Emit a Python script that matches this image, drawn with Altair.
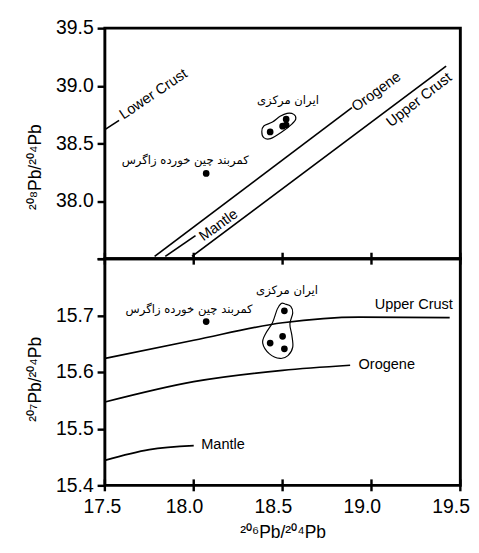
import altair as alt
import pandas as pd

# ---------------- data ----------------
x_ticks = [17.5, 18.0, 18.5, 19.0, 19.5]
top_y_ticks = [37.5, 38.0, 38.5, 39.0, 39.5]
bot_y_ticks = [15.4, 15.5, 15.6, 15.7, 15.8]

# top panel: 208Pb/204Pb vs 206Pb/204Pb reference lines
top_lower_crust_x = [17.5, 17.58]
top_lower_crust_y = [38.62, 38.70]
top_orogene_x = [17.78, 18.89]
top_orogene_y = [37.52, 38.81]
top_mantle_x = [17.84, 18.01]
top_mantle_y = [37.52, 37.70]
top_upper_crust_x = [17.99, 19.42]
top_upper_crust_y = [37.52, 39.17]

# bottom panel: 207Pb/204Pb vs 206Pb/204Pb reference curves
bot_upper_crust_x = [17.5, 18.0, 18.5, 18.93, 19.44]
bot_upper_crust_y = [15.624, 15.656, 15.687, 15.697, 15.696]
bot_orogene_x = [17.5, 18.0, 18.5, 18.88]
bot_orogene_y = [15.547, 15.583, 15.603, 15.612]
bot_mantle_x = [17.5, 17.75, 18.0]
bot_mantle_y = [15.444, 15.463, 15.470]

# samples
zagros_x = [18.07]
zagros_top_y = [38.24]
zagros_bot_y = [15.689]
central_top_x = [18.43, 18.50, 18.52, 18.52]
central_top_y = [38.60, 38.65, 38.66, 38.71]
central_bot_x = [18.51, 18.43, 18.50, 18.51]
central_bot_y = [15.708, 15.651, 15.663, 15.641]

# enclosing loops around the Central Iran samples
top_loop_x = [18.383, 18.394, 18.432, 18.497, 18.552, 18.574, 18.563, 18.525, 18.486, 18.443, 18.394]
top_loop_y = [38.601, 38.550, 38.542, 38.601, 38.668, 38.710, 38.752, 38.761, 38.735, 38.685, 38.651]
bot_loop_x = [18.514, 18.546, 18.557, 18.541, 18.552, 18.557, 18.530, 18.486, 18.426, 18.388, 18.405, 18.443, 18.470, 18.492]
bot_loop_y = [15.720, 15.716, 15.704, 15.685, 15.665, 15.644, 15.629, 15.624, 15.632, 15.651, 15.668, 15.687, 15.711, 15.721]

# annotation texts
central_label = "ایران مرکزی"
zagros_label = "کمربند چین خورده زاگرس"
top_en_text = ["Lower Crust", "Orogene", "Upper Crust", "Mantle"]
top_en_x = [17.772, 19.026, 19.266, 18.138]
top_en_y = [38.93, 38.95, 38.88, 37.794]
top_en_angle = [326, 324, 322, 324]
bot_en_text = ["Upper Crust", "Orogene", "Mantle"]
bot_en_x = [19.238, 19.086, 18.165]
bot_en_y = [15.720, 15.614, 15.473]
top_fa_x = [18.53, 17.952]
top_fa_y = [38.878, 38.357]
bot_fa_x = [18.525, 17.974]
bot_fa_y = [15.744, 15.711]

# x tick marks crossing the two horizontal frame lines (207 scale values)
tick_half = 0.0105
frame_levels = [bot_y_ticks[-1], bot_y_ticks[0]]

# ---------------- tables ----------------
def lines_df(items):
    rows = []
    for name, xs, ys in items:
        for i, (a, b) in enumerate(zip(xs, ys)):
            rows.append({"series": name, "x": a, "y": b, "order": i})
    return pd.DataFrame(rows)

top_lines = lines_df([
    ("Lower Crust", top_lower_crust_x, top_lower_crust_y),
    ("Orogene", top_orogene_x, top_orogene_y),
    ("Mantle", top_mantle_x, top_mantle_y),
    ("Upper Crust", top_upper_crust_x, top_upper_crust_y),
])
bot_lines = lines_df([
    ("Upper Crust", bot_upper_crust_x, bot_upper_crust_y),
    ("Orogene", bot_orogene_x, bot_orogene_y),
    ("Mantle", bot_mantle_x, bot_mantle_y),
])
top_pts = pd.DataFrame({"x": zagros_x + central_top_x, "y": zagros_top_y + central_top_y})
bot_pts = pd.DataFrame({"x": zagros_x + central_bot_x, "y": zagros_bot_y + central_bot_y})
top_loop = pd.DataFrame({"x": top_loop_x, "y": top_loop_y, "order": list(range(len(top_loop_x)))})
bot_loop = pd.DataFrame({"x": bot_loop_x, "y": bot_loop_y, "order": list(range(len(bot_loop_x)))})
top_en = pd.DataFrame({"text": top_en_text, "x": top_en_x, "y": top_en_y, "angle": top_en_angle})
bot_en = pd.DataFrame({"text": bot_en_text, "x": bot_en_x, "y": bot_en_y})
top_fa = pd.DataFrame({"text": [central_label, zagros_label], "x": top_fa_x, "y": top_fa_y})
bot_fa = pd.DataFrame({"text": [central_label, zagros_label], "x": bot_fa_x, "y": bot_fa_y})
frame_ticks = pd.DataFrame([
    {"x": xv, "y": lv - tick_half, "y2": lv + tick_half}
    for lv in frame_levels for xv in x_ticks
])

# ---------------- chart ----------------
W = 367
LABEL_FONT = "Liberation Sans"
FA_FONT = "DejaVu Sans"
X_SCALE = alt.Scale(domain=[17.5, 19.5], nice=False, zero=False)


def y_axis(yticks, blank, title, title_y):
    return alt.Axis(values=yticks,
                    labelExpr=f"datum.value == {blank} ? '' : format(datum.value, '.1f')",
                    tickSize=8, tickWidth=2.5, tickColor="black", domain=False, grid=False,
                    labelFont=LABEL_FONT, labelFontSize=20, labelColor="black", labelPadding=4,
                    labelFlush=False,
                    title=title, titleFont=LABEL_FONT, titleFontSize=18, titleY=title_y,
                    titleFontWeight="normal", titleColor="black", titlePadding=12)


def panel(lines, pts, loop, en, fa, ydom, yax, xax, interp, height, extra=None):
    xs = alt.X("x:Q", scale=X_SCALE, axis=xax)
    ys = alt.Y("y:Q", scale=alt.Scale(domain=ydom, nice=False, zero=False), axis=yax)
    line_kw = dict(color="black", strokeWidth=1.7, clip=True)
    if interp:
        line_kw["interpolate"] = interp
    l = alt.Chart(lines).mark_line(**line_kw).encode(
        x=xs, y=ys, detail="series:N", order="order:Q")
    lp = alt.Chart(loop).mark_line(color="black", strokeWidth=1.2, interpolate="cardinal-closed").encode(
        x="x:Q", y="y:Q", order="order:Q")
    p = alt.Chart(pts).mark_circle(color="black", opacity=1, size=48).encode(x="x:Q", y="y:Q")
    enc = dict(x="x:Q", y="y:Q", text="text:N")
    if "angle" in en.columns:
        enc["angle"] = alt.Angle("angle:Q", scale=None)
    t = alt.Chart(en).mark_text(font=LABEL_FONT, fontSize=15, color="black").encode(**enc)
    f = alt.Chart(fa).mark_text(font=FA_FONT, fontSize=12, color="black").encode(
        x="x:Q", y="y:Q", text="text:N")
    layers = [l, lp, p, t, f]
    if extra is not None:
        layers.append(extra)
    return alt.layer(*layers).properties(width=W, height=height)


bot_x_axis = alt.Axis(values=x_ticks, format=".1f", ticks=False,
                      domain=False, grid=False, labelFont=LABEL_FONT, labelFontSize=20,
                      labelColor="black", labelPadding=12, labelFlush=False,
                      labelOffset={"condition": {"test": "datum.value == 17.5", "value": -3}, "value": -10},
                      title="²⁰⁶Pb/²⁰⁴Pb", titleFont=LABEL_FONT, titleFontSize=18,
                      titleFontWeight="normal", titleColor="black", titlePadding=8)

ticks_layer = alt.Chart(frame_ticks).mark_rule(color="black", strokeWidth=2.5, clip=False).encode(
    x="x:Q", y="y:Q", y2="y2:Q")

top = panel(top_lines, top_pts, top_loop, top_en, top_fa, [37.5, 39.5],
            y_axis(top_y_ticks, 37.5, "²⁰⁸Pb/²⁰⁴Pb", 143), None, None, 238)
bot = panel(bot_lines, bot_pts, bot_loop, bot_en, bot_fa, [15.4, 15.8],
            y_axis(bot_y_ticks, 15.8, "²⁰⁷Pb/²⁰⁴Pb", 124), bot_x_axis, "monotone", 234,
            extra=ticks_layer)

chart = alt.vconcat(top, bot, spacing=0, bounds="flush").properties(
    padding={"left": 17, "top": 0, "right": 0, "bottom": 0},
    background="white",
).configure_view(stroke="black", strokeWidth=3)

chart.save("out.html", embed_options={"renderer": "svg", "actions": False})
